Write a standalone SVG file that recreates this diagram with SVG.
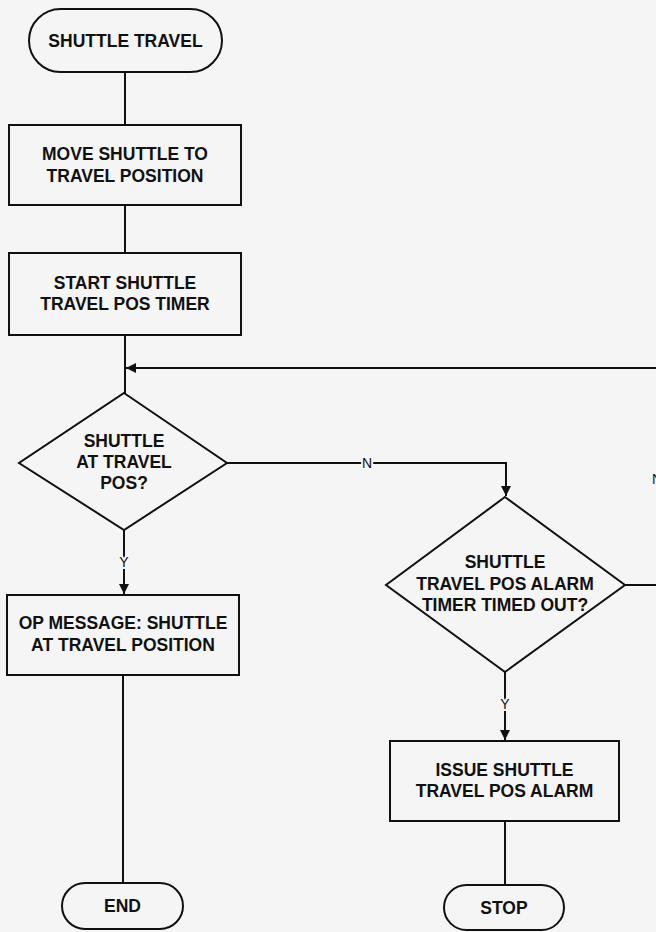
<svg xmlns="http://www.w3.org/2000/svg" width="656" height="932" viewBox="0 0 656 932">
  <style>
    .shape { fill: none; stroke: #111; stroke-width: 2; stroke-linejoin: miter; }
    .wire { fill: none; stroke: #111; stroke-width: 2; }
    .lbl { font-family: "Liberation Sans", Arial, sans-serif; font-weight: bold; font-size: 17.5px; fill: #111; text-anchor: middle; }
    .tag { font-family: "Liberation Sans", Arial, sans-serif; font-size: 14px; fill: #111; text-anchor: middle; stroke: #f5f5f5; stroke-width: 4; paint-order: stroke; }
  </style>
  <defs>
    <marker id="arrow" viewBox="0 0 10 10" refX="10" refY="5" markerWidth="10" markerHeight="10" markerUnits="userSpaceOnUse" orient="auto">
      <path d="M0,0 L10,5 L0,10 Z" fill="#111"/>
    </marker>
  </defs>

  <rect x="0" y="0" width="656" height="932" fill="#f5f5f5"/>

  <!-- connectors -->
  <g id="connectors">
    <line class="wire" x1="125" y1="72" x2="125" y2="125"/>
    <line class="wire" x1="125" y1="205" x2="125" y2="253"/>
    <line class="wire" x1="125" y1="335" x2="125" y2="393"/>
    <line class="wire" x1="656" y1="368" x2="126" y2="368" marker-end="url(#arrow)"/>
    <polyline class="wire" points="227,463 506,463 506,496" marker-end="url(#arrow)"/>
    <text class="tag" x="367" y="468">N</text>
    <line class="wire" x1="124" y1="530" x2="124" y2="594" marker-end="url(#arrow)"/>
    <text class="tag" x="124" y="567">Y</text>
    <line class="wire" x1="123" y1="675" x2="123" y2="883"/>
    <line class="wire" x1="625" y1="585" x2="656" y2="585"/>
    <line class="wire" x1="505" y1="672" x2="505" y2="740" marker-end="url(#arrow)"/>
    <text class="tag" x="505" y="709">Y</text>
    <line class="wire" x1="505" y1="821" x2="505" y2="885"/>
    <text class="tag" x="652" y="484" style="text-anchor:start; stroke:none">N</text>
  </g>

  <g id="start">
    <rect class="shape" x="29" y="9" width="193" height="63" rx="31.5" ry="31.5"/>
    <text class="lbl" x="125.5" y="47">SHUTTLE TRAVEL</text>
  </g>

  <g id="move-shuttle">
    <rect class="shape" x="9" y="125" width="232" height="80"/>
    <text class="lbl" x="125" y="160">MOVE SHUTTLE TO</text>
    <text class="lbl" x="125" y="182">TRAVEL POSITION</text>
  </g>

  <g id="start-timer">
    <rect class="shape" x="9" y="253" width="232" height="82"/>
    <text class="lbl" x="125" y="289">START SHUTTLE</text>
    <text class="lbl" x="125" y="310">TRAVEL POS TIMER</text>
  </g>

  <g id="at-travel-pos">
    <polygon class="shape" points="124,393 227,463 124,530 19,463"/>
    <text class="lbl" x="124" y="447">SHUTTLE</text>
    <text class="lbl" x="124" y="468">AT TRAVEL</text>
    <text class="lbl" x="124" y="489">POS?</text>
  </g>

  <g id="op-message">
    <rect class="shape" x="7" y="595" width="232" height="80"/>
    <text class="lbl" x="123" y="629">OP MESSAGE: SHUTTLE</text>
    <text class="lbl" x="123" y="651">AT TRAVEL POSITION</text>
  </g>

  <g id="end">
    <rect class="shape" x="62" y="883" width="121" height="46" rx="23" ry="23"/>
    <text class="lbl" x="122.5" y="912">END</text>
  </g>

  <g id="timer-timed-out">
    <polygon class="shape" points="505,497 625,585 505,672 386,585"/>
    <text class="lbl" x="505" y="568">SHUTTLE</text>
    <text class="lbl" x="505" y="590">TRAVEL POS ALARM</text>
    <text class="lbl" x="505" y="611">TIMER TIMED OUT?</text>
  </g>

  <g id="issue-alarm">
    <rect class="shape" x="390" y="741" width="229" height="80"/>
    <text class="lbl" x="504.5" y="776">ISSUE SHUTTLE</text>
    <text class="lbl" x="504.5" y="797">TRAVEL POS ALARM</text>
  </g>

  <g id="stop">
    <rect class="shape" x="444" y="885" width="120" height="45" rx="22.5" ry="22.5"/>
    <text class="lbl" x="504" y="914">STOP</text>
  </g>
</svg>
